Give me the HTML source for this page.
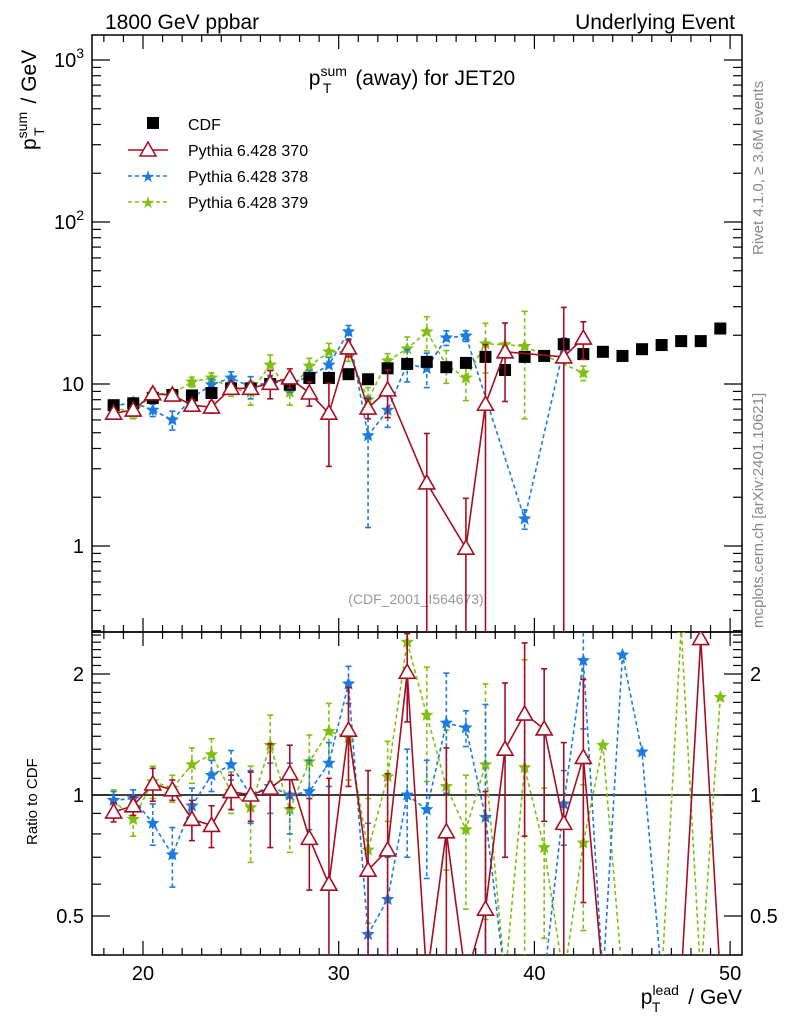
<!DOCTYPE html>
<html><head><meta charset="utf-8"><style>
html,body{margin:0;padding:0;background:#fff;width:786px;height:1024px;overflow:hidden}
svg{display:block;font-family:"Liberation Sans",sans-serif;overflow:hidden}
</style></head><body>
<svg id="c" width="786" height="1024" xmlns="http://www.w3.org/2000/svg">
<defs>
<clipPath id="cm"><rect x="92" y="35" width="650" height="597"/></clipPath>
<clipPath id="cr"><rect x="92" y="632" width="650" height="323"/></clipPath>
</defs>
<text x="105" y="29" font-size="21">1800 GeV ppbar</text>
<text x="735" y="29" font-size="21" text-anchor="end">Underlying Event</text>
<text x="412" y="85" font-size="21" text-anchor="middle">p<tspan font-size="14" dy="-9">sum</tspan><tspan font-size="14" dx="-24" dy="17">T</tspan><tspan dy="-8" dx="18"> (away) for JET20</tspan></text>
<text x="416" y="604" font-size="14" fill="#999" text-anchor="middle">(CDF_2001_I564673)</text>
<text transform="translate(763,255) rotate(-90)" font-size="15" fill="#888">Rivet 4.1.0, ≥ 3.6M events</text>
<text transform="translate(763,628) rotate(-90)" font-size="15" fill="#888">mcplots.cern.ch [arXiv:2401.10621]</text>
<text transform="translate(36,150) rotate(-90)" font-size="21">p<tspan font-size="14" dy="-9">sum</tspan><tspan font-size="14" dx="-24" dy="17">T</tspan><tspan dy="-8" dx="18"> / GeV</tspan></text>
<text transform="translate(37,845) rotate(-90)" font-size="15">Ratio to CDF</text>
<text x="742" y="1004" font-size="21" text-anchor="end">p<tspan font-size="14" dy="-9">lead</tspan><tspan font-size="14" dx="-27" dy="17">T</tspan><tspan dy="-8" dx="22"> / GeV</tspan></text>
<g id="legend">
<rect x="147" y="117" width="12" height="12" fill="#000"/>
<text x="188" y="130" font-size="16">CDF</text>
<line x1="128" y1="150" x2="168" y2="150" stroke="#a50f25" stroke-width="1.5"/>
<polygon points="148,142 156,156 140,156" fill="#fff" stroke="#a50f25" stroke-width="1.5"/>
<text x="188" y="156" font-size="16">Pythia 6.428 370</text>
<line x1="128" y1="176" x2="168" y2="176" stroke="#1a7be0" stroke-width="1.5" stroke-dasharray="4,3"/>
<text x="148" y="182" font-size="16" fill="#1a7be0" text-anchor="middle">★</text>
<text x="188" y="182" font-size="16">Pythia 6.428 378</text>
<line x1="128" y1="202" x2="168" y2="202" stroke="#80c010" stroke-width="1.5" stroke-dasharray="4,3"/>
<text x="148" y="208" font-size="16" fill="#80c010" text-anchor="middle">★</text>
<text x="188" y="208" font-size="16">Pythia 6.428 379</text>
</g>
<g id="axes"></g>
<g id="main" clip-path="url(#cm)"></g>
<g id="ratio" clip-path="url(#cr)"></g>
</svg>
<script>
const xBins=[18.5,19.5,20.5,21.5,22.5,23.5,24.5,25.5,26.5,27.5,28.5,29.5,30.5,31.5,32.5,33.5,34.5,35.5,36.5,37.5,38.5,39.5,40.5,41.5,42.5,43.5,44.5,45.5,46.5,47.5,48.5,49.5];
const cdfVals=[7.4,7.6,8.2,8.55,8.5,8.8,9.4,9.4,10,9.9,10.9,10.9,11.5,10.7,12.5,13.3,13.7,12.7,13.5,14.7,12.2,14.7,14.9,17.6,15.3,15.8,14.9,16.4,17.4,18.4,18.4,22];
const p370=[6.6,6.9,8.7,8.55,7.4,7.2,9.4,9.4,10.1,10.9,8.8,6.6,16.7,7.1,9.2,null,2.45,null,0.97,7.5,15.8,null,null,14.7,19.2,null,null,null,null,null,null,null];
const p370Err=[0.3,0.3,0.6,0.5,0.6,0.6,0.6,0.6,2,1.5,1.5,3.5,2,1,3,0,2.5,0,1,10,8,0,0,15,5,0,0,0,0,0,0,0];
const p378=[7.3,7.7,6.9,6.0,8.2,9.9,10.9,9.6,10.3,10.1,11.1,13.1,21,4.8,6.9,13.3,12.5,19.3,19.8,null,null,1.47,null,16.7,null,null,null,null,null,null,null,null];
const p378Err=[0.4,0.5,0.6,0.8,0.6,0.8,1,1.5,1,1.2,1,1.5,2,3.5,1.5,3,3,2,1.5,0,0,0.2,0,2.5,0,0,0,0,0,0,0,0];
const p379=[7.2,6.6,8.7,8.7,10.3,10.9,9.4,8.9,13.1,8.9,12.9,15.8,15.8,8.0,13.9,16.5,21,13.1,10.9,17.7,17.5,17.1,null,null,11.7,null,null,null,null,null,null,null];
const p379Err=[0.4,0.5,0.6,0.6,0.7,0.8,1,1.5,2,1.5,1.5,2,2,1.5,1.5,3,5,3,3,6,0,11,0,0,1.2,0,0,0,0,0,0,0];
const r370=[0.907,0.94,1.065,1.03,0.87,0.84,1.02,1.0,1.04,1.13,0.78,0.6,1.45,0.65,0.73,2.02,0.35,0.81,0.35,0.52,1.3,1.59,1.46,0.85,1.24,0.35,0.35,0.35,0.35,0.35,2.45,0.35];
const r370Err=[0.05,0.05,0.1,0.06,0.1,0.1,0.1,0.14,0.3,0.2,0.2,0.5,0.4,0.5,0.4,0.5,0,0.5,0,0.5,0.6,0.8,0.6,0.5,0.7,0,0,0,0,0,0,0];
const r378=[0.97,0.98,0.85,0.71,0.94,1.12,1.19,1.0,1.05,1.0,1.02,1.2,1.89,0.45,0.55,1.0,0.92,1.51,1.47,0.88,0.35,0.35,0.35,0.95,2.16,0.35,2.23,1.28,0.35,0.35,0.35,0.35];
const r378Err=[0.05,0.05,0.1,0.12,0.1,0.1,0.1,0.15,0.15,0.2,0.2,0.15,0.2,0.4,0.15,0.3,0.3,0.5,0.15,0.8,0,0,0,0.2,0.7,0,0,0,0,0,0,0];
const r379=[0.97,0.87,1.08,1.04,1.19,1.26,1.02,0.93,1.33,0.92,1.21,1.44,1.39,0.73,1.11,2.4,1.58,1.05,0.82,1.19,0.35,1.17,0.74,0.35,0.76,1.33,0.35,0.35,0.35,2.6,0.35,1.75];
const r379Err=[0.06,0.08,0.1,0.08,0.12,0.12,0.12,0.25,0.25,0.2,0.2,0.25,0.3,0.25,0.25,0,0.5,0.4,0.3,0.7,0,1.0,0.3,0,0.3,0,0,0,0,0,0,0];
const xTickLabels=[20,30,40,50];
const yMainLabels=[1,10,100,1000];
const yRatioLabels=[0.5,1,2];

const NS="http://www.w3.org/2000/svg";
const X0=92,X1=742,MT=35,MB=632,RT=632,RB=955;
const xs=v=>143+(v-20)*19.57;
const ym=v=>546-Math.log10(v)*162;
const yr=v=>795-Math.log2(v)*121;
function mk(p,tag,at){const e=document.createElementNS(NS,tag);for(const k in at)e.setAttribute(k,at[k]);p.appendChild(e);return e;}
const axes=document.getElementById('axes');
let f=mk(axes,'rect',{x:X0,y:MT,width:X1-X0,height:MB-MT,fill:'none',stroke:'#000','stroke-width':1.5});


f=mk(axes,'rect',{x:X0,y:RT,width:X1-X0,height:RB-RT,fill:'none',stroke:'#000','stroke-width':1.5});


for(let v=18;v<=50;v++){const x=xs(v);const L=(v%10===0)?14:7;
 for(const [t,b] of [[MT,MB],[RT,RB]]){mk(axes,'line',{x1:x,x2:x,y1:b,y2:b-L,stroke:'#000','stroke-width':1.2});mk(axes,'line',{x1:x,x2:x,y1:t,y2:t+L,stroke:'#000','stroke-width':1.2});}}
xTickLabels.forEach(v=>{const t=mk(axes,'text',{x:xs(v),y:980,'font-size':20,'text-anchor':'middle'});t.textContent=v;

});
for(let d=-1;d<=3;d++)for(let m=1;m<=9;m++){const v=m*Math.pow(10,d);const y=ym(v);if(y<MT||y>MB)continue;const L=m===1?18:9;
 mk(axes,'line',{x1:X0,x2:X0+L,y1:y,y2:y,stroke:'#000','stroke-width':1.2});mk(axes,'line',{x1:X1,x2:X1-L,y1:y,y2:y,stroke:'#000','stroke-width':1.2});}
yMainLabels.forEach(v=>{const y=ym(v);const t=mk(axes,'text',{x:84,y:y+7,'font-size':20,'text-anchor':'end'});
 if(v>=100){t.textContent='10';const s=mk(t,'tspan',{dy:-9,'font-size':14});s.textContent=Math.log10(v);}else t.textContent=v;
 
 });
for(let v=0.4;v<=2.6;v+=0.1){const vv=Math.round(v*10)/10;const y=yr(vv);if(y<RT||y>RB)continue;const L=(vv===0.5||vv===1||vv===2)?18:9;
 mk(axes,'line',{x1:X0,x2:X0+L,y1:y,y2:y,stroke:'#000','stroke-width':1.2});mk(axes,'line',{x1:X1,x2:X1-L,y1:y,y2:y,stroke:'#000','stroke-width':1.2});}
yRatioLabels.forEach(v=>{const y=yr(v);for(const [x,a] of [[84,'end'],[750,'start']]){const t=mk(axes,'text',{x:x,y:y+7,'font-size':20,'text-anchor':a});t.textContent=v;
 
 }});
mk(document.getElementById('ratio'),'line',{x1:X0,x2:X1,y1:yr(1),y2:yr(1),stroke:'#000','stroke-width':1.5});

function star(g,x,y,c,r){let p=[];for(let i=0;i<10;i++){const a=-Math.PI/2+i*Math.PI/5;const rr=i%2?r*0.45:r;p.push((x+rr*Math.cos(a)).toFixed(1)+','+(y+rr*Math.sin(a)).toFixed(1));}
 return mk(g,'polygon',{points:p.join(' '),fill:c});}
function series(gid,ys,vals,errs,col,dash,mtype,name,lo){
 const g=mk(document.getElementById(gid),'g',{});
 
 
 let pts=[];vals.forEach((v,i)=>{if(v!==null)pts.push([xs(xBins[i]),ys(v)]);});
 const pl=mk(g,'polyline',{points:pts.map(p=>p.join(',')).join(' '),fill:'none',stroke:col,'stroke-width':1.6,'stroke-dasharray':dash||'none'});
 
 
 vals.forEach((v,i)=>{if(v===null)return;const x=xs(xBins[i]),y=ys(v);const e=errs[i];
  if(e>0){const y1=ys(v+e),y2=ys(Math.max(v-e,lo));
   mk(g,'line',{x1:x,x2:x,y1:y1,y2:y2,stroke:col,'stroke-width':1.6,'stroke-dasharray':dash||'none'});
   mk(g,'line',{x1:x-3,x2:x+3,y1:y1,y2:y1,stroke:col,'stroke-width':1.6});mk(g,'line',{x1:x-3,x2:x+3,y1:y2,y2:y2,stroke:col,'stroke-width':1.6});}
  let m;
  if(mtype==='tri')m=mk(g,'polygon',{points:`${x},${y-8} ${x+8},${y+6} ${x-8},${y+6}`,fill:'#fff',stroke:col,'stroke-width':1.6});
  else if(mtype==='sq')m=mk(g,'rect',{x:x-6,y:y-6,width:12,height:12,fill:'#000'});
  else m=star(g,x,y,col,7);
  
  });
}
const zeros=cdfVals.map(()=>0);
series('main',ym,p379,p379Err,'#80c010','4,3','star','pythia-379',0.2);
series('main',ym,p378,p378Err,'#1a7be0','4,3','star','pythia-378',0.2);
series('main',ym,cdfVals,zeros,'none',null,'sq','cdf-data',0.2);
series('main',ym,p370,p370Err,'#a50f25',null,'tri','pythia-370',0.2);
series('ratio',yr,r379,r379Err,'#80c010','4,3','star','ratio-379',0.35);
series('ratio',yr,r378,r378Err,'#1a7be0','4,3','star','ratio-378',0.35);
series('ratio',yr,r370,r370Err,'#a50f25',null,'tri','ratio-370',0.35);
</script>
</body></html>
